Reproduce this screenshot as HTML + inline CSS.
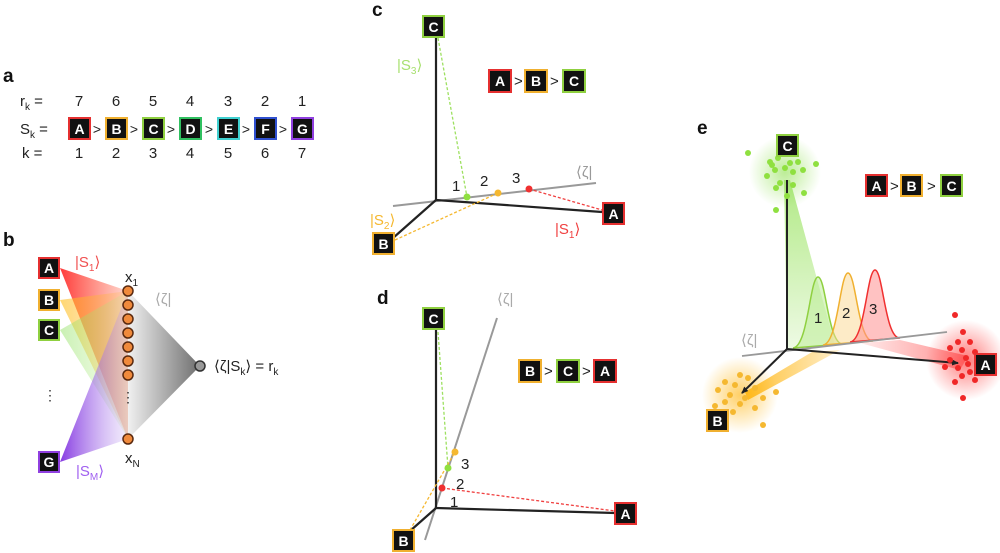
<!DOCTYPE html>
<html><head><meta charset="utf-8"><style>
html,body{margin:0;padding:0;background:#fff;}
svg{display:block;font-family:"Liberation Sans",sans-serif;}
.bl{font-weight:bold;font-size:19px;fill:#111;}
.t{font-size:15px;fill:#222;}
.bx{font-weight:bold;font-size:14px;fill:#fff;text-anchor:middle;}
</style></head><body>
<svg width="1000" height="553" viewBox="0 0 1000 553" xmlns="http://www.w3.org/2000/svg">
<defs>
<linearGradient id="gr" x1="0" x2="1"><stop offset="0" stop-color="#ff3030" stop-opacity="0.95"/><stop offset="1" stop-color="#ff6040" stop-opacity="0.25"/></linearGradient>
<linearGradient id="gy" x1="0" x2="1"><stop offset="0" stop-color="#ffc020" stop-opacity="0.9"/><stop offset="1" stop-color="#ffb030" stop-opacity="0.2"/></linearGradient>
<linearGradient id="gg" x1="0" x2="1"><stop offset="0" stop-color="#90e060" stop-opacity="0.8"/><stop offset="1" stop-color="#b0f080" stop-opacity="0.2"/></linearGradient>
<linearGradient id="gp" x1="0" x2="1"><stop offset="0" stop-color="#8030e0" stop-opacity="0.95"/><stop offset="1" stop-color="#c0a0f0" stop-opacity="0.2"/></linearGradient>
<linearGradient id="gk" x1="0" x2="1"><stop offset="0" stop-color="#eee"/><stop offset="1" stop-color="#555"/></linearGradient>
<radialGradient id="rg"><stop offset="0" stop-color="#8fe050" stop-opacity="0.6"/><stop offset="1" stop-color="#8fe050" stop-opacity="0"/></radialGradient>
<radialGradient id="rr"><stop offset="0" stop-color="#ff2020" stop-opacity="0.6"/><stop offset="1" stop-color="#ff2020" stop-opacity="0"/></radialGradient>
<radialGradient id="ry"><stop offset="0" stop-color="#ffb000" stop-opacity="0.6"/><stop offset="1" stop-color="#ffb000" stop-opacity="0"/></radialGradient>
<linearGradient id="eg" x1="0" y1="0" x2="0" y2="1"><stop offset="0" stop-color="#8fe050" stop-opacity="0.7"/><stop offset="1" stop-color="#8fe050" stop-opacity="0.15"/></linearGradient>
<linearGradient id="er" x1="0" x2="1"><stop offset="0" stop-color="#ff4040" stop-opacity="0.1"/><stop offset="1" stop-color="#ff4040" stop-opacity="0.6"/></linearGradient>
<linearGradient id="ey" x1="1" x2="0"><stop offset="0" stop-color="#ffb000" stop-opacity="0.2"/><stop offset="1" stop-color="#ffb000" stop-opacity="0.8"/></linearGradient>
<marker id="ah" markerWidth="8" markerHeight="8" refX="6" refY="3" orient="auto" markerUnits="userSpaceOnUse"><path d="M0,0 L7,3 L0,6 Z" fill="#222"/></marker>
</defs>

<!-- panel a -->
<text class="bl" x="3" y="82">a</text>
<g class="t" font-size="16">
<text x="20" y="106">r<tspan font-size="10" dy="4">k</tspan><tspan dy="-4"> =</tspan></text>
<text x="20" y="134">S<tspan font-size="10" dy="4">k</tspan><tspan dy="-4"> =</tspan></text>
<text x="22" y="158">k =</text>
</g>
<g class="t" font-size="16" text-anchor="middle">
<text x="79" y="106">7</text><text x="116" y="106">6</text><text x="153" y="106">5</text><text x="190" y="106">4</text><text x="228" y="106">3</text><text x="265" y="106">2</text><text x="302" y="106">1</text>
<text x="79" y="158">1</text><text x="116" y="158">2</text><text x="153" y="158">3</text><text x="190" y="158">4</text><text x="228" y="158">5</text><text x="265" y="158">6</text><text x="302" y="158">7</text>
<text x="97" y="134" font-size="14">&gt;</text><text x="134" y="134" font-size="14">&gt;</text><text x="171" y="134" font-size="14">&gt;</text><text x="209" y="134" font-size="14">&gt;</text><text x="246" y="134" font-size="14">&gt;</text><text x="283" y="134" font-size="14">&gt;</text>
</g>
<g stroke-width="2">
<rect x="69" y="118" width="21" height="21" fill="#111" stroke="#e53030"/><text class="bx" x="79.5" y="134">A</text>
<rect x="106" y="118" width="21" height="21" fill="#111" stroke="#f0b030"/><text class="bx" x="116.5" y="134">B</text>
<rect x="143" y="118" width="21" height="21" fill="#111" stroke="#8fd040"/><text class="bx" x="153.5" y="134">C</text>
<rect x="180" y="118" width="21" height="21" fill="#111" stroke="#30c060"/><text class="bx" x="190.5" y="134">D</text>
<rect x="218" y="118" width="21" height="21" fill="#111" stroke="#40d0d0"/><text class="bx" x="228.5" y="134">E</text>
<rect x="255" y="118" width="21" height="21" fill="#111" stroke="#3050d0"/><text class="bx" x="265.5" y="134">F</text>
<rect x="292" y="118" width="21" height="21" fill="#111" stroke="#9040e0"/><text class="bx" x="302.5" y="134">G</text>
</g>

<!-- panel b -->
<text class="bl" x="3" y="246">b</text>
<polygon points="128,291 200,366 128,439" fill="url(#gk)" opacity="0.85"/>
<polygon points="60,268 128,291 128,439" fill="url(#gr)"/>
<polygon points="60,300 128,291 128,439" fill="url(#gy)" opacity="0.7"/>
<polygon points="60,330 128,291 128,439" fill="url(#gg)" opacity="0.6"/>
<polygon points="60,462 128,291 128,439" fill="url(#gp)"/>
<g fill="#f08a3c" stroke="#5a2a10" stroke-width="1.5">
<circle cx="128" cy="291" r="5"/><circle cx="128" cy="305" r="5"/><circle cx="128" cy="319" r="5"/><circle cx="128" cy="333" r="5"/><circle cx="128" cy="347" r="5"/><circle cx="128" cy="361" r="5"/><circle cx="128" cy="375" r="5"/><circle cx="128" cy="439" r="5"/>
</g>
<text x="128" y="402" font-size="14" text-anchor="middle" fill="#333">⋮</text>
<text x="50" y="400" font-size="14" text-anchor="middle" fill="#333">⋮</text>
<circle cx="200" cy="366" r="5" fill="#999" stroke="#333" stroke-width="1.5"/>
<text class="t" x="214" y="371">⟨ζ|S<tspan font-size="10" dy="4">k</tspan><tspan dy="-4">⟩ = r</tspan><tspan font-size="10" dy="4">k</tspan></text>
<text class="t" x="125" y="282">x<tspan font-size="10" dy="4">1</tspan></text>
<text class="t" x="125" y="463">x<tspan font-size="10" dy="4">N</tspan></text>
<text x="75" y="267" font-size="15" fill="#f05050">|S<tspan font-size="10" dy="4">1</tspan><tspan dy="-4">⟩</tspan></text>
<text x="76" y="476" font-size="15" fill="#a060f0">|S<tspan font-size="10" dy="4">M</tspan><tspan dy="-4">⟩</tspan></text>
<text x="155" y="304" font-size="15" fill="#aaa">⟨ζ|</text>
<g stroke-width="2">
<rect x="39" y="258" width="20" height="20" fill="#111" stroke="#e53030"/><text class="bx" x="49" y="273">A</text>
<rect x="39" y="290" width="20" height="20" fill="#111" stroke="#f0b030"/><text class="bx" x="49" y="305">B</text>
<rect x="39" y="320" width="20" height="20" fill="#111" stroke="#8fd040"/><text class="bx" x="49" y="335">C</text>
<rect x="39" y="452" width="20" height="20" fill="#111" stroke="#9040e0"/><text class="bx" x="49" y="467">G</text>
</g>

<!-- panel c -->
<text class="bl" x="372" y="16">c</text>
<line x1="393" y1="206" x2="596" y2="183" stroke="#999" stroke-width="2"/>
<g stroke="#222" stroke-width="2.2"><line x1="436" y1="200" x2="436" y2="36"/><line x1="436" y1="200" x2="602" y2="212"/><line x1="436" y1="200" x2="393" y2="238"/></g>
<g stroke-width="1.3" stroke-dasharray="3,2" fill="none">
<line x1="438" y1="38" x2="467" y2="197" stroke="#9de060"/>
<line x1="395" y1="240" x2="498" y2="193" stroke="#f5b830"/>
<line x1="529" y1="189" x2="602" y2="210" stroke="#f04040"/>
</g>
<circle cx="467" cy="197" r="3.5" fill="#8fe040"/><circle cx="498" cy="193" r="3.5" fill="#f5b830"/><circle cx="529" cy="189" r="3.5" fill="#f03030"/>
<g class="t" font-size="16"><text x="452" y="191">1</text><text x="480" y="186">2</text><text x="512" y="183">3</text></g>
<text x="576" y="177" font-size="15" fill="#999">⟨ζ|</text>
<text x="397" y="70" font-size="15" fill="#a8e070">|S<tspan font-size="10" dy="4">3</tspan><tspan dy="-4">⟩</tspan></text>
<text x="370" y="225" font-size="15" fill="#f5b830">|S<tspan font-size="10" dy="4">2</tspan><tspan dy="-4">⟩</tspan></text>
<text x="555" y="234" font-size="15" fill="#f04040">|S<tspan font-size="10" dy="4">1</tspan><tspan dy="-4">⟩</tspan></text>
<g stroke-width="2">
<rect x="423" y="16" width="21" height="21" fill="#111" stroke="#8fd040"/><text class="bx" x="433.5" y="32">C</text>
<rect x="603" y="203" width="21" height="21" fill="#111" stroke="#e53030"/><text class="bx" x="613.5" y="219">A</text>
<rect x="373" y="233" width="21" height="21" fill="#111" stroke="#f0b030"/><text class="bx" x="383.5" y="249">B</text>
<rect x="489" y="70" width="22" height="22" fill="#111" stroke="#e53030"/><text class="bx" x="500" y="86">A</text>
<rect x="525" y="70" width="22" height="22" fill="#111" stroke="#f0b030"/><text class="bx" x="536" y="86">B</text>
<rect x="563" y="70" width="22" height="22" fill="#111" stroke="#8fd040"/><text class="bx" x="574" y="86">C</text>
</g>
<g class="t" font-size="14"><text x="514" y="86">&gt;</text><text x="550" y="86">&gt;</text></g>

<!-- panel d -->
<text class="bl" x="377" y="304">d</text>
<line x1="425" y1="540" x2="497" y2="318" stroke="#999" stroke-width="2"/>
<g stroke="#222" stroke-width="2.2"><line x1="436" y1="508" x2="436" y2="330"/><line x1="436" y1="508" x2="615" y2="513"/><line x1="436" y1="508" x2="410" y2="531"/></g>
<g stroke-width="1.3" stroke-dasharray="3,2" fill="none">
<line x1="438" y1="332" x2="448" y2="468" stroke="#9de060"/>
<line x1="410" y1="530" x2="455" y2="452" stroke="#f5b830"/>
<line x1="442" y1="488" x2="615" y2="511" stroke="#f04040"/>
</g>
<circle cx="448" cy="468" r="3.5" fill="#8fe040"/><circle cx="455" cy="452" r="3.5" fill="#f5b830"/><circle cx="442" cy="488" r="3.5" fill="#f03030"/>
<g class="t" font-size="16"><text x="450" y="507">1</text><text x="456" y="489">2</text><text x="461" y="469">3</text></g>
<text x="497" y="304" font-size="15" fill="#aaa">⟨ζ|</text>
<g stroke-width="2">
<rect x="423" y="308" width="21" height="21" fill="#111" stroke="#8fd040"/><text class="bx" x="433.5" y="324">C</text>
<rect x="615" y="503" width="21" height="21" fill="#111" stroke="#e53030"/><text class="bx" x="625.5" y="519">A</text>
<rect x="393" y="530" width="21" height="21" fill="#111" stroke="#f0b030"/><text class="bx" x="403.5" y="546">B</text>
<rect x="519" y="360" width="22" height="22" fill="#111" stroke="#f0b030"/><text class="bx" x="530" y="376">B</text>
<rect x="557" y="360" width="22" height="22" fill="#111" stroke="#8fd040"/><text class="bx" x="568" y="376">C</text>
<rect x="594" y="360" width="22" height="22" fill="#111" stroke="#e53030"/><text class="bx" x="605" y="376">A</text>
</g>
<g class="t" font-size="14"><text x="544" y="376">&gt;</text><text x="582" y="376">&gt;</text></g>

<!-- panel e -->
<text class="bl" x="697" y="134">e</text>
<circle cx="785" cy="172" r="36" fill="url(#rg)"/>
<circle cx="966" cy="360" r="40" fill="url(#rr)"/>
<circle cx="740" cy="395" r="38" fill="url(#ry)"/>
<polygon points="784,180 790,180 835,345 787,349" fill="url(#eg)"/>
<polygon points="860,343 900,340 968,356 960,370" fill="url(#er)"/>
<polygon points="745,392 812,352 840,350 748,400" fill="url(#ey)"/>
<path d="M793,348 C808,347 810,277 818,277 C826,277 828,345 843,344 Z" fill="#b8ec90" fill-opacity="0.5" stroke="#8fd040" stroke-width="1.5"/>
<path d="M823,345 C838,344 840,273 848,273 C856,273 858,342 873,341 Z" fill="#fbd890" fill-opacity="0.5" stroke="#f0b030" stroke-width="1.5"/>
<path d="M850,342 C865,341 867,270 875,270 C883,270 885,339 900,338 Z" fill="#ff9090" fill-opacity="0.55" stroke="#f03030" stroke-width="1.5"/>
<g class="t" font-size="16"><text x="814" y="323">1</text><text x="842" y="318">2</text><text x="869" y="314">3</text></g>
<line x1="742" y1="356" x2="947" y2="332" stroke="#999" stroke-width="1.8"/>
<text x="741" y="345" font-size="15" fill="#aaa">⟨ζ|</text>
<g stroke="#222" stroke-width="2"><line x1="787" y1="349" x2="787" y2="180"/><line x1="787" y1="349" x2="958" y2="363" marker-end="url(#ah)"/><line x1="787" y1="349" x2="742" y2="393" marker-end="url(#ah)"/></g>
<g fill="#8fe040">
<circle cx="748" cy="153" r="3"/><circle cx="770" cy="162" r="3"/><circle cx="778" cy="158" r="3"/><circle cx="790" cy="163" r="3"/><circle cx="798" cy="162" r="3"/><circle cx="816" cy="164" r="3"/><circle cx="775" cy="170" r="3"/><circle cx="785" cy="168" r="3"/><circle cx="793" cy="172" r="3"/><circle cx="767" cy="176" r="3"/><circle cx="780" cy="183" r="3"/><circle cx="793" cy="185" r="3"/><circle cx="804" cy="193" r="3"/><circle cx="776" cy="188" r="3"/><circle cx="787" cy="196" r="3"/><circle cx="776" cy="210" r="3"/><circle cx="772" cy="165" r="3"/><circle cx="803" cy="170" r="3"/>
</g>
<g fill="#f02828">
<circle cx="955" cy="315" r="3"/><circle cx="963" cy="332" r="3"/><circle cx="958" cy="342" r="3"/><circle cx="970" cy="342" r="3"/><circle cx="962" cy="350" r="3"/><circle cx="975" cy="352" r="3"/><circle cx="950" cy="360" r="3"/><circle cx="966" cy="358" r="3"/><circle cx="945" cy="367" r="3"/><circle cx="958" cy="368" r="3"/><circle cx="970" cy="372" r="3"/><circle cx="962" cy="376" r="3"/><circle cx="975" cy="380" r="3"/><circle cx="955" cy="382" r="3"/><circle cx="963" cy="398" r="3"/><circle cx="968" cy="364" r="3"/><circle cx="950" cy="348" r="3"/>
</g>
<g fill="#f5b830">
<circle cx="740" cy="375" r="3"/><circle cx="748" cy="378" r="3"/><circle cx="725" cy="382" r="3"/><circle cx="735" cy="385" r="3"/><circle cx="755" cy="388" r="3"/><circle cx="718" cy="390" r="3"/><circle cx="730" cy="395" r="3"/><circle cx="745" cy="398" r="3"/><circle cx="776" cy="392" r="3"/><circle cx="725" cy="402" r="3"/><circle cx="740" cy="404" r="3"/><circle cx="755" cy="408" r="3"/><circle cx="715" cy="406" r="3"/><circle cx="733" cy="412" r="3"/><circle cx="763" cy="398" r="3"/><circle cx="763" cy="425" r="3"/>
</g>
<g stroke-width="2">
<rect x="777" y="135" width="21" height="21" fill="#111" stroke="#8fd040"/><text class="bx" x="787.5" y="151">C</text>
<rect x="975" y="354" width="21" height="21" fill="#111" stroke="#e53030"/><text class="bx" x="985.5" y="370">A</text>
<rect x="707" y="410" width="21" height="21" fill="#111" stroke="#f0b030"/><text class="bx" x="717.5" y="426">B</text>
<rect x="866" y="175" width="21" height="21" fill="#111" stroke="#e53030"/><text class="bx" x="876.5" y="191">A</text>
<rect x="901" y="175" width="21" height="21" fill="#111" stroke="#f0b030"/><text class="bx" x="911.5" y="191">B</text>
<rect x="941" y="175" width="21" height="21" fill="#111" stroke="#8fd040"/><text class="bx" x="951.5" y="191">C</text>
</g>
<g class="t" font-size="14"><text x="890" y="191">&gt;</text><text x="927" y="191">&gt;</text></g>
</svg>
</body></html>
